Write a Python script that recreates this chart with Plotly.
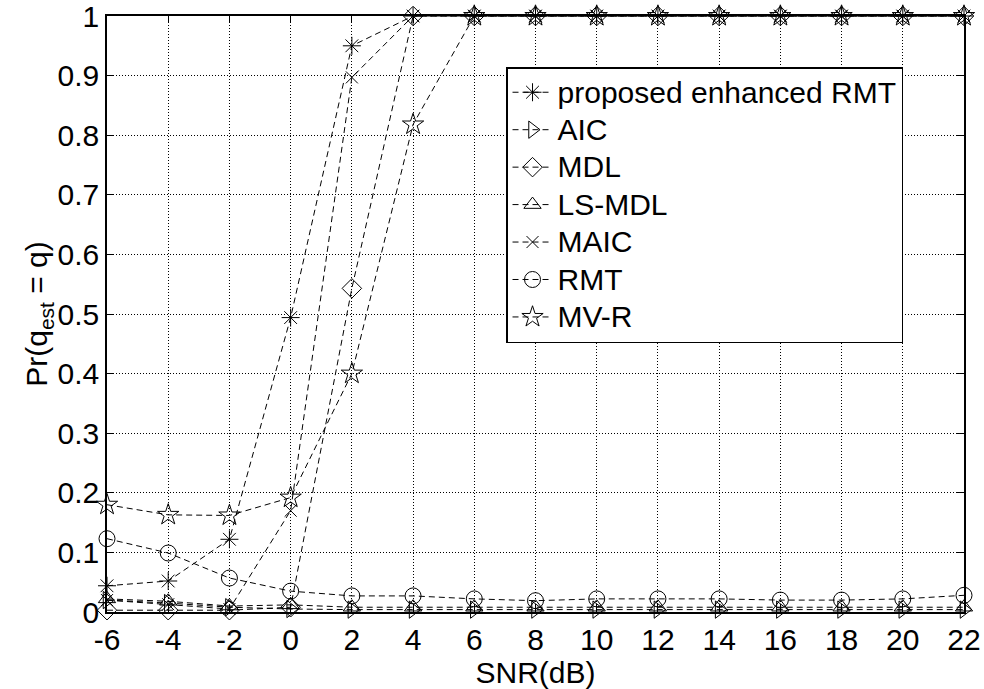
import plotly.graph_objects as go

snr = [-6, -4, -2, 0, 2, 4, 6, 8, 10, 12, 14, 16, 18, 20, 22]
proposed = [0.044, 0.052, 0.122, 0.494, 0.95, 1, 1, 1, 1, 1, 1, 1, 1, 1, 1]
aic = [0.02, 0.015, 0.008, 0.005, 0.004, 0.004, 0.004, 0.004, 0.004, 0.004, 0.004, 0.004, 0.004, 0.004, 0.004]
mdl = [0.003, 0.003, 0.003, 0.008, 0.543, 1, 1, 1, 1, 1, 1, 1, 1, 1, 1]
lsmdl = [0.022, 0.018, 0.01, 0.012, 0.008, 0.008, 0.008, 0.008, 0.008, 0.008, 0.008, 0.008, 0.008, 0.008, 0.008]
maic = [0.02, 0.013, 0.005, 0.17, 0.897, 1, 1, 1, 1, 1, 1, 1, 1, 1, 1]
rmt = [0.123, 0.099, 0.057, 0.035, 0.027, 0.027, 0.022, 0.019, 0.022, 0.022, 0.022, 0.02, 0.02, 0.022, 0.028]
mvr = [0.18, 0.163, 0.162, 0.192, 0.40, 0.818, 1, 1, 1, 1, 1, 1, 1, 1, 1]

names = ["proposed enhanced RMT", "AIC", "MDL", "LS-MDL", "MAIC", "RMT", "MV-R"]
series = [proposed, aic, mdl, lsmdl, maic, rmt, mvr]
symbols = ["asterisk-open", "triangle-right-open", "diamond-open", "triangle-up-open",
           "x-thin-open", "circle-open", "star-open"]
sizes = [15, 15, 15, 15, 12, 16, 16]

xticks = [-6, -4, -2, 0, 2, 4, 6, 8, 10, 12, 14, 16, 18, 20, 22]
xticktext = ["-6", "-4", "-2", "0", "2", "4", "6", "8", "10", "12", "14", "16", "18", "20", "22"]
yticks = [0, 0.1, 0.2, 0.3, 0.4, 0.5, 0.6, 0.7, 0.8, 0.9, 1]
yticktext = ["0", "0.1", "0.2", "0.3", "0.4", "0.5", "0.6", "0.7", "0.8", "0.9", "1"]

fig = go.Figure()
for name, ys, sym, sz in zip(names, series, symbols, sizes):
    fig.add_trace(go.Scatter(
        x=snr, y=ys, name='<span style="font-size:30px">' + name + '</span>',
        mode="lines+markers",
        line=dict(color="black", width=1, dash="6px,4px"),
        marker=dict(symbol=sym, size=sz, color="black",
                    line=dict(color="black", width=1)),
        cliponaxis=False,
    ))

font = "Liberation Sans, Arial, sans-serif"
fig.update_layout(
    width=984, height=689,
    margin=dict(l=107, r=20, t=16, b=77),
    paper_bgcolor="white", plot_bgcolor="white",
    font=dict(family=font, size=30, color="black"),
    showlegend=True,
    legend=dict(x=0.4656, y=0.9144, xanchor="left", yanchor="top",
                bgcolor="white", bordercolor="black", borderwidth=1.5,
                font=dict(family=font, size=26.5, color="black"),
                tracegroupgap=0, itemwidth=40),
    xaxis=dict(range=[-6, 22], tickvals=xticks, ticktext=xticktext, ticks="inside",
               ticklen=7, tickcolor="black", showline=True, linecolor="black",
               linewidth=1.5, mirror="ticks", showgrid=True, gridcolor="black",
               gridwidth=1, griddash="1px,2px", zeroline=False, automargin=False,
               ticklabeloverflow="allow",
               title=dict(text="SNR(dB)", standoff=0, font=dict(size=30)),
               tickfont=dict(size=30)),
    yaxis=dict(range=[0, 1], tickvals=yticks, ticktext=yticktext, ticks="inside",
               ticklen=7, tickcolor="black", showline=True, linecolor="black",
               linewidth=1.5, mirror="ticks", showgrid=True, gridcolor="black",
               gridwidth=1, griddash="1px,2px", zeroline=False, automargin=False,
               ticklabeloverflow="allow",
               title=dict(text="Pr(q<sub>est</sub> = q)", standoff=0, font=dict(size=30)),
               tickfont=dict(size=30)),
)

fig.write_html("out.html", config={"displayModeBar": False},
               post_script="document.body.style.margin='0';")
